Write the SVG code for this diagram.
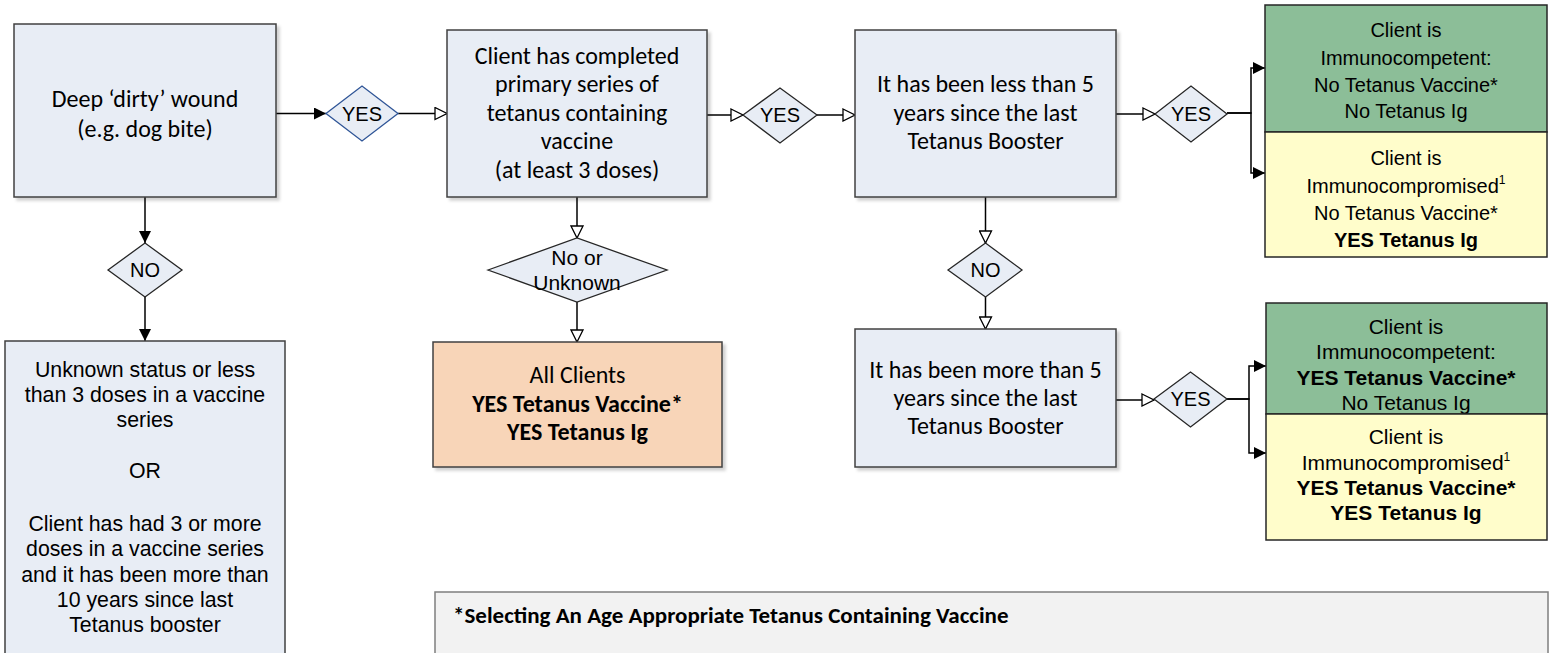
<svg xmlns="http://www.w3.org/2000/svg" width="1551" height="653" viewBox="0 0 1551 653">
<style>
.box{fill:#E8EDF5;stroke:#404040;stroke-width:1.5}
.dia{fill:#E8EDF5;stroke:#262626;stroke-width:1.3}
.cal{font-family:Carlito,Lato,"Liberation Sans",sans-serif;font-size:24px;fill:#000;text-anchor:middle}
.ari{font-family:"Liberation Sans",Arial,sans-serif;font-size:20px;fill:#000;text-anchor:middle}
.a21{font-size:21px}
.b{font-weight:bold}
.con{fill:none;stroke:#000;stroke-width:1.5}
.fa{marker-end:url(#filled)}
.oa{marker-end:url(#open)}
</style>
<defs>
<marker id="filled" viewBox="0 0 12 12" refX="12" refY="6" markerWidth="12" markerHeight="12" markerUnits="userSpaceOnUse" orient="auto">
<path d="M0,0 L12,6 L0,12 Z" fill="#000"/>
</marker>
<marker id="open" viewBox="0 0 14 14" refX="13" refY="7" markerWidth="14" markerHeight="14" markerUnits="userSpaceOnUse" orient="auto">
<path d="M1,1 L13,7 L1,13 Z" fill="#fff" stroke="#000" stroke-width="1.3"/>
</marker>
<filter id="sh" x="-5%" y="-5%" width="115%" height="115%">
<feDropShadow dx="3" dy="3" stdDeviation="1.5" flood-color="#000" flood-opacity="0.18"/>
</filter>
</defs>

<g id="connectors">
<path class="con fa" d="M276,113.5 H326"/>
<path class="con oa" d="M398,113.5 H447"/>
<path class="con oa" d="M707,115 H743"/>
<path class="con oa" d="M817,115 H855"/>
<path class="con oa" d="M1116,114 H1155"/>
<path class="con fa" d="M1227,113 H1251 V68 H1265"/>
<path class="con fa" d="M1227,113 H1251 V173 H1265"/>
<path class="con fa" d="M145,197 V243"/>
<path class="con fa" d="M145,297 V341"/>
<path class="con oa" d="M577,197 V238"/>
<path class="con oa" d="M577,302 V342"/>
<path class="con oa" d="M985.5,197 V243"/>
<path class="con oa" d="M985.5,297 V329"/>
<path class="con oa" d="M1116,400 H1154"/>
<path class="con fa" d="M1227,399 H1249 V366 H1266"/>
<path class="con fa" d="M1227,399 H1249 V453 H1266"/>
</g>

<g id="n-wound">
<rect class="box" x="14" y="24" width="262" height="173" filter="url(#sh)"/>
<text class="cal" x="145" y="107">Deep ‘dirty’ wound</text>
<text class="cal" x="145" y="137">(e.g. dog bite)</text>
</g>

<g id="d-yes1">
<polygon points="326,113.5 362,86 398,113.5 362,141" fill="#E8EDF5" stroke="#2F5597" stroke-width="1.3"/>
<text class="ari" x="362" y="121">YES</text>
</g>

<g id="n-primary">
<rect class="box" x="447" y="30" width="260" height="167" filter="url(#sh)"/>
<text class="cal" x="577" y="63.5">Client has completed</text>
<text class="cal" x="577" y="92">primary series of</text>
<text class="cal" x="577" y="120.5">tetanus containing</text>
<text class="cal" x="577" y="149">vaccine</text>
<text class="cal" x="577" y="178">(at least 3 doses)</text>
</g>

<g id="d-yes2">
<polygon class="dia" points="743,115 780,88 817,115 780,143"/>
<text class="ari" x="780" y="122">YES</text>
</g>

<g id="n-less5">
<rect class="box" x="855" y="30" width="261" height="167" filter="url(#sh)"/>
<text class="cal" x="985.5" y="92">It has been less than 5</text>
<text class="cal" x="985.5" y="120.5">years since the last</text>
<text class="cal" x="985.5" y="149">Tetanus Booster</text>
</g>

<g id="d-yes3">
<polygon class="dia" points="1155,114 1191,86 1227,114 1191,142"/>
<text class="ari" x="1191" y="121">YES</text>
</g>

<g id="n-competent1">
<rect x="1265" y="5" width="282" height="127" fill="#8CBE98" stroke="#262626" stroke-width="1.5"/>
<text class="ari" x="1406" y="37">Client is</text>
<text class="ari" x="1406" y="65">Immunocompetent:</text>
<text class="ari" x="1406" y="92">No Tetanus Vaccine*</text>
<text class="ari" x="1406" y="118">No Tetanus Ig</text>
</g>

<g id="n-compromised1">
<rect x="1265" y="132" width="282" height="125" fill="#FFFDCB" stroke="#262626" stroke-width="1.5"/>
<text class="ari" x="1406" y="165">Client is</text>
<text class="ari" x="1406" y="193">Immunocompromised<tspan font-size="12" dy="-9">1</tspan></text>
<text class="ari" x="1406" y="220">No Tetanus Vaccine*</text>
<text class="ari b" x="1406" y="247">YES Tetanus Ig</text>
</g>

<g id="d-no1">
<polygon class="dia" points="108,270 145,243 182,270 145,297"/>
<text class="ari" x="145" y="277">NO</text>
</g>

<g id="n-unknown">
<rect class="box" x="5" y="341" width="280" height="330"/>
<text class="ari" style="font-size:21.3px" x="145" y="377">Unknown status or less</text>
<text class="ari" style="font-size:21.3px" x="145" y="402">than 3 doses in a vaccine</text>
<text class="ari" style="font-size:21.3px" x="145" y="427">series</text>
<text class="ari" style="font-size:21.3px" x="145" y="478">OR</text>
<text class="ari" style="font-size:21.3px" x="145" y="531">Client has had 3 or more</text>
<text class="ari" style="font-size:21.3px" x="145" y="556">doses in a vaccine series</text>
<text class="ari" style="font-size:21.3px" x="145" y="582">and it has been more than</text>
<text class="ari" style="font-size:21.3px" x="145" y="607">10 years since last</text>
<text class="ari" style="font-size:21.3px" x="145" y="632">Tetanus booster</text>
</g>

<g id="d-nounknown">
<polygon class="dia" points="488,270 577,238 667,270 577,302"/>
<text class="ari a21" x="577" y="265">No or</text>
<text class="ari a21" x="577" y="290">Unknown</text>
</g>

<g id="n-allclients">
<rect x="433" y="342" width="289" height="125" fill="#F8D5B8" stroke="#404040" stroke-width="1.5" filter="url(#sh)"/>
<text class="cal" x="577.5" y="383">All Clients</text>
<text class="cal b" x="577.5" y="412">YES Tetanus Vaccine*</text>
<text class="cal b" x="577.5" y="440">YES Tetanus Ig</text>
</g>

<g id="d-no2">
<polygon class="dia" points="948,270 985.5,243 1022,270 985.5,297"/>
<text class="ari" x="985.5" y="277">NO</text>
</g>

<g id="n-more5">
<rect class="box" x="855" y="329" width="261" height="138" filter="url(#sh)"/>
<text class="cal" x="985.5" y="378">It has been more than 5</text>
<text class="cal" x="985.5" y="406">years since the last</text>
<text class="cal" x="985.5" y="434">Tetanus Booster</text>
</g>

<g id="d-yes4">
<polygon class="dia" points="1154,399 1190.5,372 1227,399 1190.5,427"/>
<text class="ari" x="1190.5" y="406">YES</text>
</g>

<g id="n-competent2">
<rect x="1266" y="303" width="281" height="111" fill="#8CBE98" stroke="#262626" stroke-width="1.5"/>
<text class="ari a21" x="1406" y="334">Client is</text>
<text class="ari a21" x="1406" y="359">Immunocompetent:</text>
<text class="ari a21 b" x="1406" y="385">YES Tetanus Vaccine*</text>
<text class="ari a21" x="1406" y="410">No Tetanus Ig</text>
</g>

<g id="n-compromised2">
<rect x="1266" y="414" width="281" height="126" fill="#FFFDCB" stroke="#262626" stroke-width="1.5"/>
<text class="ari a21" x="1406" y="444">Client is</text>
<text class="ari a21" x="1406" y="470">Immunocompromised<tspan font-size="12" dy="-9">1</tspan></text>
<text class="ari a21 b" x="1406" y="495">YES Tetanus Vaccine*</text>
<text class="ari a21 b" x="1406" y="520">YES Tetanus Ig</text>
</g>

<g id="n-note">
<rect x="435" y="592" width="1113" height="80" fill="#F2F2F2" stroke="#7F7F7F" stroke-width="1.5"/>
<text class="cal b" x="453" y="623" style="text-anchor:start;font-size:23px">*Selecting An Age Appropriate Tetanus Containing Vaccine</text>
</g>
</svg>
